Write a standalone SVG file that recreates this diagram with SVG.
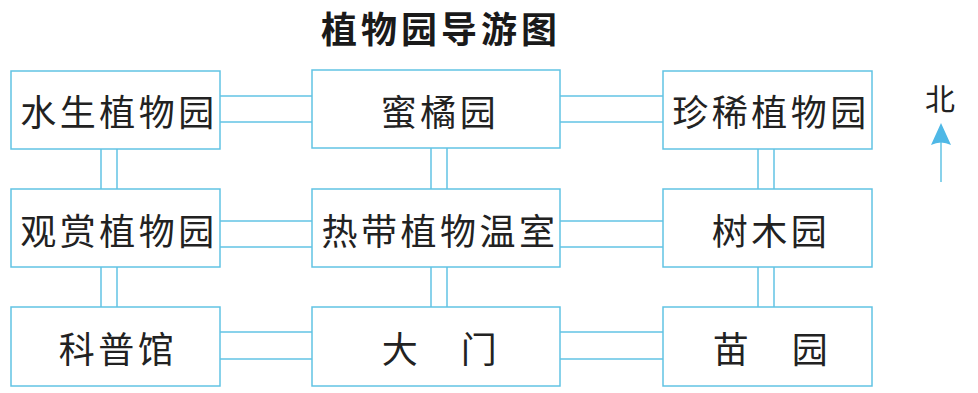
<svg xmlns="http://www.w3.org/2000/svg" width="978" height="393" viewBox="0 0 978 393">
<style>
.box{fill:#ffffff;stroke:#62c3e4;stroke-width:1.5}
.con line{stroke:#62c3e4;stroke-width:1.5}
.lbl{font-family:"Noto Sans CJK SC","Noto Sans CJK TC",sans-serif;font-size:36px;fill:#222;letter-spacing:3.5px;text-anchor:middle;dominant-baseline:central}
.title{font-family:"Noto Sans CJK SC",sans-serif;font-size:36px;font-weight:bold;fill:#1a1a1a;letter-spacing:4px;text-anchor:middle;dominant-baseline:central}
</style>
<rect width="978" height="393" fill="#ffffff"/>
<text class="title" x="441" y="27">植物园导游图</text>
<g id="connectors" class="con">
<line x1="220" y1="96" x2="312" y2="96"/><line x1="220" y1="122" x2="312" y2="122"/>
<line x1="560" y1="96" x2="663" y2="96"/><line x1="560" y1="122" x2="663" y2="122"/>
<line x1="220" y1="221" x2="312" y2="221"/><line x1="220" y1="247" x2="312" y2="247"/>
<line x1="560" y1="221" x2="663" y2="221"/><line x1="560" y1="247" x2="663" y2="247"/>
<line x1="220" y1="332" x2="312" y2="332"/><line x1="220" y1="359" x2="312" y2="359"/>
<line x1="560" y1="332" x2="663" y2="332"/><line x1="560" y1="359" x2="663" y2="359"/>
<line x1="101" y1="149" x2="101" y2="189"/><line x1="117" y1="149" x2="117" y2="189"/>
<line x1="101" y1="267" x2="101" y2="307"/><line x1="117" y1="267" x2="117" y2="307"/>
<line x1="431" y1="148" x2="431" y2="189"/><line x1="447" y1="148" x2="447" y2="189"/>
<line x1="431" y1="267" x2="431" y2="307"/><line x1="447" y1="267" x2="447" y2="307"/>
<line x1="758" y1="149" x2="758" y2="189"/><line x1="774" y1="149" x2="774" y2="189"/>
<line x1="758" y1="267" x2="758" y2="307"/><line x1="774" y1="267" x2="774" y2="307"/>
</g>
<g id="n1"><rect class="box" x="11" y="71" width="209" height="78"/><text class="lbl" x="119" y="110">水生植物园</text></g>
<g id="n2"><rect class="box" x="312" y="70" width="248" height="78"/><text class="lbl" x="440" y="110">蜜橘园</text></g>
<g id="n3"><rect class="box" x="663" y="71" width="209" height="78"/><text class="lbl" x="771" y="110">珍稀植物园</text></g>
<g id="n4"><rect class="box" x="11" y="189" width="209" height="78"/><text class="lbl" x="119" y="229">观赏植物园</text></g>
<g id="n5"><rect class="box" x="312" y="189" width="248" height="78"/><text class="lbl" x="440" y="229">热带植物温室</text></g>
<g id="n6"><rect class="box" x="663" y="189" width="209" height="78"/><text class="lbl" x="771" y="229">树木园</text></g>
<g id="n7"><rect class="box" x="11" y="307" width="209" height="79"/><text class="lbl" x="118" y="347">科普馆</text></g>
<g id="n8"><rect class="box" x="312" y="307" width="248" height="79"/><text class="lbl" x="441" y="347">大　门</text></g>
<g id="n9"><rect class="box" x="663" y="307" width="209" height="79"/><text class="lbl" x="772" y="347">苗　园</text></g>
<g id="north">
<text x="940" y="97" font-family="Noto Sans CJK SC,sans-serif" font-size="30" fill="#222" text-anchor="middle" dominant-baseline="central">北</text>
<line x1="941" y1="140" x2="941" y2="182" stroke="#62c3e4" stroke-width="1.5"/>
<path d="M941 123 L951 145 Q941 140 931 145 Z" fill="#4fb8e6"/>
</g>
</svg>
